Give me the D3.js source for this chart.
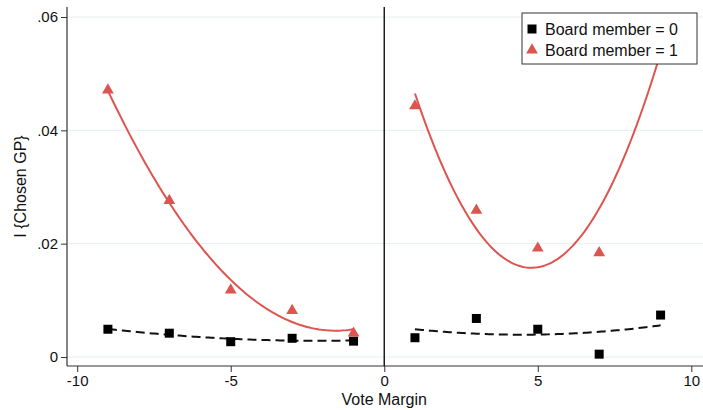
<!DOCTYPE html>
<html>
<head>
<meta charset="utf-8">
<script src="https://cdn.jsdelivr.net/npm/d3@7"></script>
<style>
  html, body { margin: 0; padding: 0; background: #fff; }
  svg { display: block; font-family: "Liberation Sans", Arial, sans-serif; }
</style>
</head>
<body>
<svg id="chart" width="703" height="410"></svg>
<script>
// Binned means of I{Chosen GP} by vote margin, split by board membership
const leftBins = [-9, -7, -5, -3, -1];
const rightBins = [1, 3, 5, 7, 9];
const board0Left = [0.0049, 0.0042, 0.0027, 0.0033, 0.0028];
const board0Right = [0.0034, 0.0068, 0.0049, 0.0005, 0.0074];
const board1Left = [0.0471, 0.0276, 0.0118, 0.0082, 0.0042];
const board1Right = [0.0443, 0.0259, 0.0192, 0.0184, 0.0570];
const xTicks = [-10, -5, 0, 5, 10];
const yTicks = [0, 0.02, 0.04, 0.06];
const yTickLabels = ["0", ".02", ".04", ".06"];
const legendLabels = ["Board member = 0", "Board member = 1"];

const RED = "#dd5550";
const svg = d3.select("#chart");

const plot = { left: 67, right: 703, top: 7, bottom: 366 };
const x = d3.scaleLinear().domain([-10, 10]).range([77.2, 691.3]);
const y = d3.scaleLinear().domain([0, 0.06]).range([357, 17]);

// Quadratic least-squares fit (like Stata's qfit) evaluated over the bin range
function qfit(xs, ys) {
  const n = xs.length;
  let s = [0, 0, 0, 0, 0], t = [0, 0, 0];
  xs.forEach((xv, i) => {
    for (let k = 0; k < 5; k++) s[k] += Math.pow(xv, k);
    for (let k = 0; k < 3; k++) t[k] += Math.pow(xv, k) * ys[i];
  });
  const M = [[s[0], s[1], s[2], t[0]], [s[1], s[2], s[3], t[1]], [s[2], s[3], s[4], t[2]]];
  for (let i = 0; i < 3; i++) {
    for (let j = i + 1; j < 3; j++) {
      const f = M[j][i] / M[i][i];
      for (let k = i; k < 4; k++) M[j][k] -= f * M[i][k];
    }
  }
  const c = [0, 0, 0];
  for (let i = 2; i >= 0; i--) {
    let v = M[i][3];
    for (let k = i + 1; k < 3; k++) v -= M[i][k] * c[k];
    c[i] = v / M[i][i];
  }
  const lo = d3.min(xs), hi = d3.max(xs);
  return d3.range(0, 101).map(i => {
    const xv = lo + (hi - lo) * i / 100;
    return [xv, c[0] + c[1] * xv + c[2] * xv * xv];
  });
}

// Grid lines
svg.append("g").selectAll("line").data(yTicks).join("line")
  .attr("x1", plot.left).attr("x2", plot.right)
  .attr("y1", d => y(d)).attr("y2", d => y(d))
  .attr("stroke", "#e6eef1").attr("stroke-width", 1);

// Y axis
const yAxis = d3.axisLeft(y).tickValues(yTicks)
  .tickFormat((d, i) => yTickLabels[i]).tickSize(6).tickPadding(3);
const gy = svg.append("g").attr("transform", `translate(${plot.left},0)`).call(yAxis);
gy.select(".domain").remove();
gy.append("line").attr("x1", 0).attr("x2", 0).attr("y1", plot.top).attr("y2", plot.bottom)
  .attr("stroke", "#333").attr("stroke-width", 1.2);
gy.selectAll(".tick line").attr("stroke", "#333");
gy.selectAll(".tick text").attr("font-size", 15).attr("fill", "#111")
  .attr("font-family", "Liberation Sans, Arial, sans-serif");

// X axis
const xAxis = d3.axisBottom(x).tickValues(xTicks).tickFormat(d3.format("d")).tickSize(6).tickPadding(3);
const gx = svg.append("g").attr("transform", `translate(0,${plot.bottom})`).call(xAxis);
gx.select(".domain").remove();
gx.append("line").attr("x1", plot.left).attr("x2", plot.right).attr("y1", 0).attr("y2", 0)
  .attr("stroke", "#333").attr("stroke-width", 1.2);
gx.selectAll(".tick line").attr("stroke", "#333");
gx.selectAll(".tick text").attr("font-size", 15).attr("fill", "#111")
  .attr("font-family", "Liberation Sans, Arial, sans-serif")
  .text(d => d < 0 ? "-" + Math.abs(d) : String(d));

// Cutoff line at zero margin
svg.append("line").attr("x1", x(0)).attr("x2", x(0)).attr("y1", plot.top).attr("y2", plot.bottom)
  .attr("stroke", "#111").attr("stroke-width", 1.4);

// Axis titles
svg.append("text").attr("x", x(0)).attr("y", 405).attr("text-anchor", "middle")
  .attr("font-size", 16).attr("fill", "#111").text("Vote Margin");
svg.append("text").attr("transform", `translate(26,${(plot.top + plot.bottom) / 2}) rotate(-90)`)
  .attr("text-anchor", "middle").attr("font-size", 16).attr("fill", "#111").text("I {Chosen GP}");

const line = d3.line().x(d => x(d[0])).y(d => y(d[1])).curve(d3.curveLinear);

// Fitted curves
[[rightBins, board1Right], [leftBins, board1Left]].forEach(([xs, ys]) => {
  svg.append("path").attr("d", line(qfit(xs, ys))).attr("fill", "none")
    .attr("stroke", RED).attr("stroke-width", 2);
});
[[leftBins, board0Left], [rightBins, board0Right]].forEach(([xs, ys]) => {
  svg.append("path").attr("d", line(qfit(xs, ys))).attr("fill", "none")
    .attr("stroke", "#111").attr("stroke-width", 2).attr("stroke-dasharray", "9,5");
});

// Markers
const sq = d3.symbol().type(d3.symbolSquare).size(81);
const tri = d3.symbol().type(d3.symbolTriangle).size(60);
[[leftBins, board0Left], [rightBins, board0Right]].forEach(([xs, ys]) => {
  svg.append("g").selectAll("path").data(xs).join("path")
    .attr("d", sq).attr("transform", (d, i) => `translate(${x(d)},${y(ys[i])})`)
    .attr("fill", "#000");
});
[[leftBins, board1Left], [rightBins, board1Right]].forEach(([xs, ys]) => {
  svg.append("g").selectAll("path").data(xs).join("path")
    .attr("d", tri).attr("transform", (d, i) => `translate(${x(d)},${y(ys[i])})`)
    .attr("fill", RED);
});

// Legend
const lg = svg.append("g").attr("transform", "translate(522,13)");
lg.append("rect").attr("width", 175).attr("height", 51).attr("fill", "#fff")
  .attr("stroke", "#333").attr("stroke-width", 1);
lg.append("path").attr("d", sq).attr("transform", "translate(10,16)").attr("fill", "#000");
lg.append("path").attr("d", tri).attr("transform", "translate(10,37)").attr("fill", RED);
lg.selectAll("text").data(legendLabels).join("text")
  .attr("x", 23).attr("y", (d, i) => 22 + i * 21)
  .attr("font-size", 16).attr("fill", "#111").text(d => d);
</script>
</body>
</html>
